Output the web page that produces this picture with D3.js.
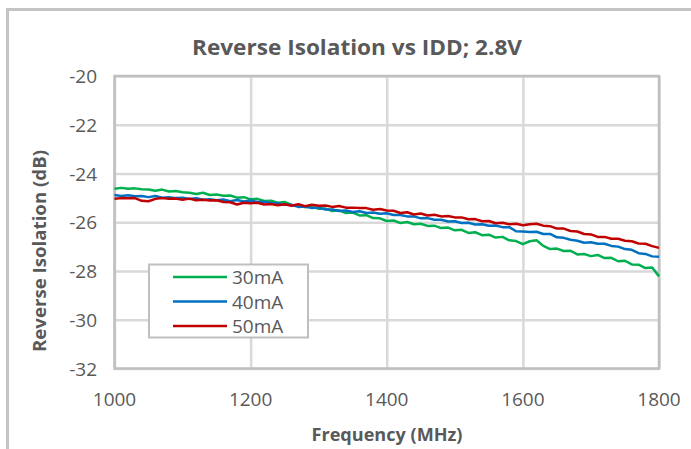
<!DOCTYPE html>
<html><head><meta charset="utf-8">
<script src="https://cdn.jsdelivr.net/npm/d3@7"></script>
<style>body{margin:0;background:#fff} svg{display:block}</style>
</head><body><svg id="c" width="691" height="449"></svg>
<script>
const chartTitle = "Reverse Isolation vs IDD; 2.8V";
const xTitle = "Frequency (MHz)";
const yTitle = "Reverse Isolation (dB)";
const xTicks = [1000, 1200, 1400, 1600, 1800];
const yTicks = [-20, -22, -24, -26, -28, -30, -32];
const seriesNames = ["30mA", "40mA", "50mA"];
const seriesColors = ["#00b050", "#0070c0", "#c00000"];

const freq = [1000,1010,1020,1030,1040,1050,1060,1070,1080,1090,1100,1110,1120,1130,1140,1150,1160,1170,1180,1190,
1200,1210,1220,1230,1240,1250,1260,1270,1280,1290,1300,1310,1320,1330,1340,1350,1360,1370,1380,1390,
1400,1410,1420,1430,1440,1450,1460,1470,1480,1490,1500,1510,1520,1530,1540,1550,1560,1570,1580,1590,
1600,1610,1620,1630,1640,1650,1660,1670,1680,1690,1700,1710,1720,1730,1740,1750,1760,1770,1780,1790,1800];

const iso30 = [-24.63,-24.59,-24.63,-24.61,-24.65,-24.66,-24.71,-24.66,-24.74,-24.72,-24.77,-24.79,-24.84,-24.79,-24.88,-24.86,-24.91,-24.90,-24.99,-24.97,
-25.06,-25.04,-25.13,-25.12,-25.20,-25.17,-25.29,-25.30,-25.38,-25.36,-25.45,-25.44,-25.54,-25.51,-25.62,-25.60,-25.72,-25.71,-25.83,-25.84,
-25.95,-25.93,-26.03,-25.99,-26.08,-26.06,-26.15,-26.14,-26.24,-26.22,-26.33,-26.31,-26.44,-26.41,-26.53,-26.51,-26.63,-26.60,-26.74,-26.77,
-26.90,-26.78,-26.74,-26.97,-27.10,-27.08,-27.18,-27.17,-27.32,-27.30,-27.39,-27.34,-27.47,-27.46,-27.60,-27.58,-27.73,-27.74,-27.88,-27.86,-28.22];

const iso40 = [-24.88,-24.92,-24.89,-24.93,-24.92,-24.97,-24.92,-24.99,-24.97,-25.01,-24.99,-25.05,-25.01,-25.08,-25.06,-25.10,-25.07,-25.14,-25.09,-25.15,
-25.11,-25.17,-25.16,-25.22,-25.22,-25.28,-25.28,-25.37,-25.35,-25.42,-25.40,-25.48,-25.48,-25.54,-25.52,-25.58,-25.55,-25.62,-25.60,-25.65,
-25.63,-25.70,-25.70,-25.76,-25.76,-25.84,-25.83,-25.90,-25.90,-25.97,-25.96,-26.03,-26.02,-26.09,-26.08,-26.14,-26.13,-26.20,-26.20,-26.37,
-26.38,-26.40,-26.39,-26.48,-26.48,-26.62,-26.64,-26.72,-26.76,-26.84,-26.82,-26.88,-26.88,-26.97,-27.00,-27.10,-27.13,-27.27,-27.30,-27.40,-27.42];

const iso50 = [-25.04,-25.01,-25.02,-25.01,-25.12,-25.14,-25.04,-25.01,-25.04,-25.03,-25.08,-25.03,-25.10,-25.08,-25.11,-25.10,-25.17,-25.18,-25.27,-25.20,
-25.22,-25.20,-25.27,-25.25,-25.30,-25.26,-25.32,-25.26,-25.34,-25.28,-25.32,-25.31,-25.37,-25.33,-25.40,-25.40,-25.42,-25.42,-25.49,-25.46,
-25.52,-25.53,-25.62,-25.59,-25.68,-25.64,-25.72,-25.69,-25.76,-25.74,-25.80,-25.80,-25.88,-25.87,-25.96,-25.95,-26.04,-26.02,-26.08,-26.06,
-26.12,-26.08,-26.06,-26.14,-26.16,-26.26,-26.26,-26.36,-26.38,-26.48,-26.50,-26.60,-26.60,-26.68,-26.68,-26.76,-26.78,-26.87,-26.88,-26.98,-27.05];

const seriesValues = [iso30, iso40, iso50];

const svg = d3.select("#c");
const font = "'Open Sans', sans-serif";
const txt = "#595959";
const L = 114.5, R = 659, T = 76, B = 368.5;

const x = d3.scaleLinear().domain([1000, 1800]).range([L, R]);
const y = d3.scaleLinear().domain([-32, -20]).range([B, T]);

// outer chart frame (partly clipped)
svg.append("rect").attr("x", 7.5).attr("y", 9.5).attr("width", 720).attr("height", 460)
  .attr("fill", "none").attr("stroke", "#c4c4c4").attr("stroke-width", 3);

// gridlines
const gy = svg.append("g").attr("transform", `translate(${L},0)`)
  .call(d3.axisLeft(y).tickValues(yTicks).tickSize(-(R - L)).tickFormat(""));
gy.select(".domain").remove();
gy.selectAll("line").attr("stroke", "#d9d9d9").attr("stroke-width", 2.5);

const gx = svg.append("g").attr("transform", `translate(0,${B})`)
  .call(d3.axisBottom(x).tickValues(xTicks).tickSize(-(B - T)).tickFormat(""));
gx.select(".domain").remove();
gx.selectAll("line").attr("stroke", "#d9d9d9").attr("stroke-width", 2.5);

// plot border
svg.append("rect").attr("x", L).attr("y", T).attr("width", R - L).attr("height", B - T)
  .attr("fill", "none").attr("stroke", "#bfbfbf").attr("stroke-width", 2.5);

// tick labels
svg.append("g").selectAll("text").data(yTicks).join("text")
  .attr("x", 97).attr("y", d => y(d) + 7)
  .attr("text-anchor", "end").attr("font-family", font).attr("font-size", 19).attr("fill", txt)
  .text(d => d);
svg.append("g").selectAll("text").data(xTicks).join("text")
  .attr("x", d => x(d)).attr("y", 406)
  .attr("text-anchor", "middle").attr("font-family", font).attr("font-size", 19).attr("fill", txt)
  .text(d => d);

// series
const line = d3.line().x((d, i) => x(freq[i])).y(d => y(d));
svg.append("g").selectAll("path").data(seriesValues).join("path")
  .attr("d", d => line(d)).attr("fill", "none")
  .attr("stroke", (d, i) => seriesColors[i]).attr("stroke-width", 2.5)
  .attr("stroke-linejoin", "round");

// titles
svg.append("text").attr("x", 357).attr("y", 55).attr("text-anchor", "middle")
  .attr("font-family", font).attr("font-weight", "bold").attr("font-size", 21).attr("fill", txt)
  .attr("textLength", 330).attr("lengthAdjust", "spacingAndGlyphs").text(chartTitle);
svg.append("text").attr("x", 387).attr("y", 441).attr("text-anchor", "middle")
  .attr("font-family", font).attr("font-weight", "bold").attr("font-size", 18).attr("fill", txt)
  .attr("textLength", 151).attr("lengthAdjust", "spacingAndGlyphs").text(xTitle);
svg.append("text").attr("transform", "translate(46,251) rotate(-90)").attr("text-anchor", "middle")
  .attr("font-family", font).attr("font-weight", "bold").attr("font-size", 18).attr("fill", txt)
  .attr("textLength", 202).attr("lengthAdjust", "spacingAndGlyphs").text(yTitle);

// legend
const lg = svg.append("g");
lg.append("rect").attr("x", 149).attr("y", 264.5).attr("width", 159).attr("height", 73)
  .attr("fill", "#fff").attr("stroke", "#bfbfbf").attr("stroke-width", 2);
const rows = lg.selectAll("g.row").data(seriesNames).join("g").attr("class", "row")
  .attr("transform", (d, i) => `translate(0,${277 + i * 24.5})`);
rows.append("line").attr("x1", 173).attr("x2", 227).attr("y1", 0).attr("y2", 0)
  .attr("stroke", (d, i) => seriesColors[i]).attr("stroke-width", 2.5);
rows.append("text").attr("x", 232).attr("y", 7).attr("font-family", font).attr("font-size", 19)
  .attr("fill", txt).text(d => d);
</script></body></html>
